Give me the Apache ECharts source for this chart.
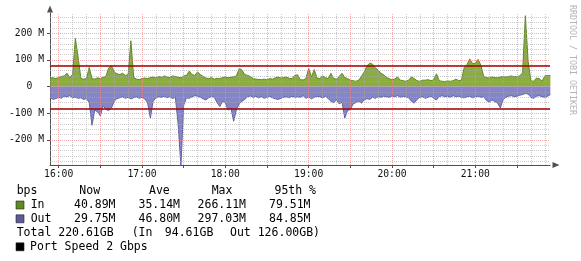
<!DOCTYPE html>
<html><head><meta charset="utf-8">
<script src="https://cdn.jsdelivr.net/npm/echarts@6/dist/echarts.min.js"></script>
<style>html,body{margin:0;padding:0;background:#fff}#c{width:581px;height:261px}</style>
</head><body><div id="c"></div>
<script>
// sample times: minutes since midnight, one sample every 2 minutes from 15:54
const startMinute = 954;
const stepMinutes = 2;
// traffic in Mbit/s
const inMbps = [
 32,33,30,34,38,40,50,34,45,181,
 110,30,28,30,72,30,28,33,30,35,
 38,70,78,55,48,45,50,42,45,172,
 35,28,26,30,32,30,34,36,32,38,
 35,40,36,34,40,38,35,33,40,42,
 58,45,42,55,45,38,32,30,34,28,
 31,30,34,36,33,35,37,40,68,62,
 45,42,38,30,28,27,26,28,25,30,
 28,33,36,32,34,36,31,30,42,44,
 26,25,30,68,36,64,32,30,40,34,
 30,50,30,28,38,50,34,30,24,22,
 20,24,38,55,78,88,84,70,62,50,
 44,34,30,25,28,36,24,22,20,24,
 36,30,22,20,24,24,26,22,25,48,
 22,20,19,21,20,22,28,22,24,72,
 82,104,86,88,102,80,38,34,32,36,
 34,33,36,38,36,38,40,37,38,40,
 52,266,95,22,20,32,30,20,40,42,41
];
const outMbps = [
 42,48,45,40,44,36,38,34,42,40,
 44,42,48,45,60,145,88,95,110,72,
 85,90,80,55,45,42,38,44,40,46,
 42,38,44,40,46,60,118,55,42,38,
 40,36,42,38,45,40,140,297,70,42,
 44,38,34,36,40,46,50,42,36,40,
 60,75,55,62,88,80,130,85,65,55,
 48,38,35,40,36,42,38,44,40,36,
 42,46,48,44,40,38,42,36,40,38,
 40,34,44,38,46,40,36,38,42,36,
 45,55,60,50,65,58,118,90,85,65,
 60,55,62,50,45,48,40,44,38,40,
 36,38,40,35,38,34,40,36,38,42,
 55,62,48,40,38,44,40,36,44,50,
 38,34,38,36,40,34,38,36,40,42,
 38,36,42,38,36,40,38,52,58,50,
 56,62,80,48,40,36,34,38,36,32,
 30,26,28,40,44,36,34,38,40,36,30
];
const p95Mbps = [79.51, 84.85];          // In, Out 95th percentile
const xLabelMinutes = [960, 1020, 1080, 1140, 1200, 1260];
const yLabelMbps = [-200, -100, 0, 100, 200];
const legendHeader = ['bps', 'Now', 'Ave', 'Max', '95th %'];
const inStats = ['40.89M', '35.14M', '266.11M', '79.51M'];
const outStats = ['29.75M', '46.80M', '297.03M', '84.85M'];
const totalText = ['Total 220.61GB', '(In', '94.61GB', 'Out 126.00GB)'];
const portText = 'Port Speed 2 Gbps';
const watermark = 'RRDTOOL / TOBI OETIKER';

const FONT = 'DejaVu Sans Mono';
const M = 1e6;
const toPairs = (arr, sign) => arr.map((v, i) => [startMinute + i * stepMinutes, sign * v * M]);
const pad = n => (n < 10 ? '0' : '') + n;
const fmtTime = v => pad(Math.floor(v / 60)) + ':' + pad(Math.round(v % 60));

const PINK = 'rgba(240,140,140,0.7)';
const GREY = 'rgba(170,170,170,0.6)';
const gridLines = [];
for (let v = -280; v <= 260; v += 20) {
  if (v === 0) continue;
  gridLines.push({ yAxis: v * M, lineStyle: { color: v % 100 === 0 ? PINK : GREY, type: [1, 1], width: 1 } });
}
for (let t = 960; t <= 1310; t += 10) {
  gridLines.push({ xAxis: t, lineStyle: { color: t % 30 === 0 ? PINK : GREY, type: [1, 1], width: 1 } });
}
const xTickMinutes = [];
for (let t = 960; t <= 1310; t += 30) xTickMinutes.push(t);

const chart = echarts.init(document.getElementById('c'), null, { renderer: 'canvas' });

const T = (text, x, y, align) => ({
  type: 'text', x, y, silent: true,
  style: { text, fill: '#000', fontSize: 11.5, fontFamily: FONT, align: align || 'left', verticalAlign: 'middle' }
});
const R = (y, color) => ({
  type: 'rect', silent: true, shape: { x: 16, y: y - 4.5, width: 8, height: 8 },
  style: { fill: color, stroke: '#222', lineWidth: 0.6 }
});
const rowY = [191.3, 205.5, 219.3, 233.2, 247.3];
const statX = [115.5, 180, 246, 310.5];
const headX = [16.7, 79.3, 149, 211.7, 274.5];
const graphics = [];
legendHeader.forEach((s, i) => graphics.push(T(s, headX[i], rowY[0])));
graphics.push(R(rowY[1], '#5f8c1e'), T('In', 30.7, rowY[1]));
inStats.forEach((s, i) => graphics.push(T(s, statX[i], rowY[1], 'right')));
graphics.push(R(rowY[2], '#5c5c9c'), T('Out', 30.7, rowY[2]));
outStats.forEach((s, i) => graphics.push(T(s, statX[i], rowY[2], 'right')));
graphics.push(T(totalText[0], 16.7, rowY[3]), T(totalText[1], 131.7, rowY[3]),
  T(totalText[2], 213.3, rowY[3], 'right'), T(totalText[3], 230, rowY[3]));
graphics.push(R(rowY[4], '#000'), T(portText, 30, rowY[4]));
graphics.push({
  type: 'text', x: 572, y: 5, rotation: -Math.PI / 2, silent: true,
  style: { text: watermark, fill: '#b4b4b4', fontSize: 8.3, fontFamily: FONT, align: 'left', verticalAlign: 'middle' }
});

const axisLabelStyle = { fontFamily: FONT, fontSize: 9.7, color: '#111' };

chart.setOption({
  animation: false,
  backgroundColor: '#fff',
  grid: { left: 50, right: 31, top: 13, bottom: 96, containLabel: false },
  xAxis: {
    type: 'value', min: 953.75, max: 1313.75,
    splitLine: { show: false },
    axisLine: { show: true, onZero: false, lineStyle: { color: '#505050', width: 1 },
      symbol: ['none', 'triangle'], symbolSize: [6, 7], symbolOffset: [0, 6] },
    axisTick: { show: true, customValues: xTickMinutes, length: 3, lineStyle: { color: '#505050' } },
    axisLabel: Object.assign({ customValues: xLabelMinutes, formatter: fmtTime, margin: 4 }, axisLabelStyle)
  },
  yAxis: {
    type: 'value', min: -294 * M, max: 276 * M,
    splitLine: { show: false },
    axisLine: { show: true, onZero: false, lineStyle: { color: '#505050', width: 1 },
      symbol: ['none', 'triangle'], symbolSize: [6, 7], symbolOffset: [0, 4] },
    axisTick: { show: true, customValues: yLabelMbps.map(v => v * M), length: 3, lineStyle: { color: '#505050' } },
    axisLabel: Object.assign({
      customValues: yLabelMbps.map(v => v * M), margin: 6,
      formatter: v => (Math.abs(v) < 1 ? '0  ' : Math.round(v / M) + ' M')
    }, axisLabelStyle)
  },
  series: [
    { type: 'line', name: 'grid', data: [], z: 1, silent: true,
      markLine: { silent: true, animation: false, symbol: ['none', 'none'], label: { show: false }, data: gridLines } },
    { type: 'line', name: 'In', data: toPairs(inMbps, 1), z: 2, symbol: 'none', showSymbol: false,
      lineStyle: { color: '#5f8a1e', width: 1 }, areaStyle: { color: '#8aae3c', opacity: 1 } },
    { type: 'line', name: 'Out', data: toPairs(outMbps, -1), z: 2, symbol: 'none', showSymbol: false,
      lineStyle: { color: '#6262a8', width: 1 }, areaStyle: { color: '#8585cc', opacity: 1 } },
    { type: 'line', name: '95th', data: [], z: 4, silent: true,
      markLine: { silent: true, animation: false, symbol: ['none', 'none'], label: { show: false },
        data: [
          { yAxis: 0, lineStyle: { color: 'rgba(240,120,120,0.6)', type: [1, 2], width: 1 } },
          { yAxis: p95Mbps[0] * M, lineStyle: { color: '#a00000', width: 1.6, type: 'solid' } },
          { yAxis: -p95Mbps[1] * M, lineStyle: { color: '#a00000', width: 1.6, type: 'solid' } }
        ] } }
  ],
  graphic: graphics
});
</script></body></html>
